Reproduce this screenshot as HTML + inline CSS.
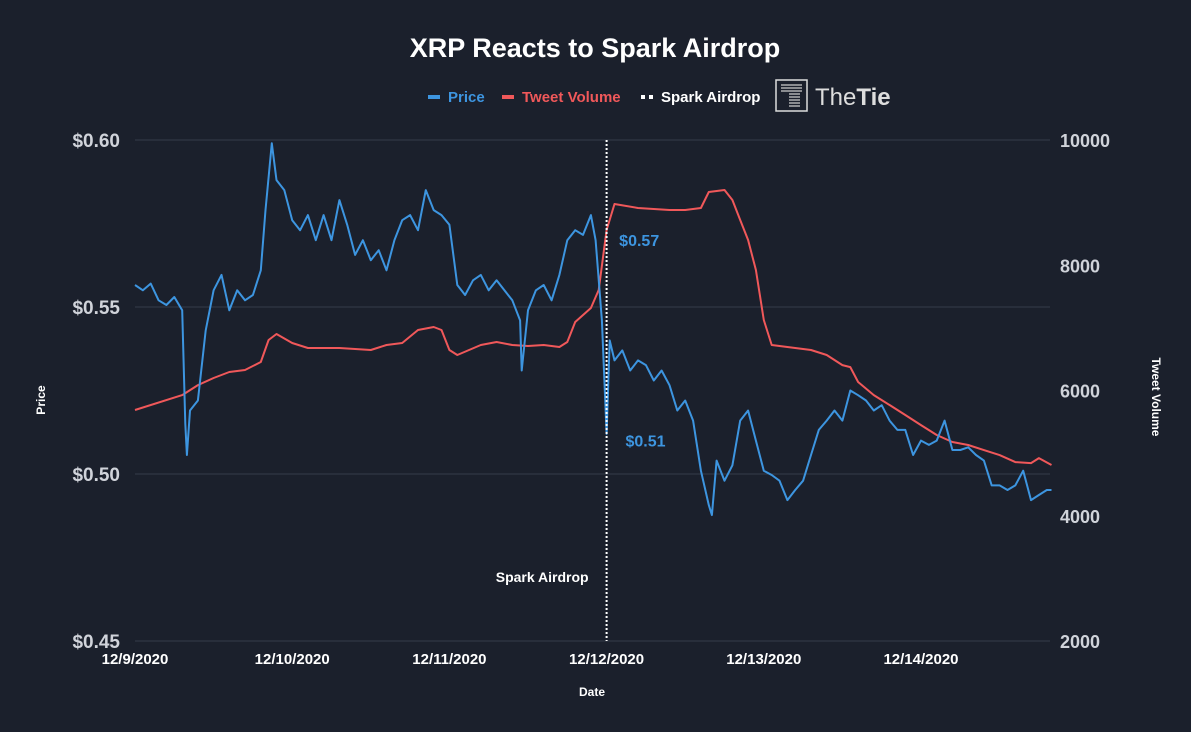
<!DOCTYPE html>
<html><head><meta charset="utf-8"><style>
body{margin:0;background:#1b202c;}
svg{display:block;font-family:"Liberation Sans",sans-serif;}
</style></head><body>
<svg id="c" width="1191" height="732">
<rect width="1191" height="732" fill="#1b202c"/>
<text x="595" y="57" text-anchor="middle" fill="#fff" font-size="27" font-weight="bold">XRP Reacts to Spark Airdrop</text>
<g>
<g><rect x="428" y="95" width="12" height="4" fill="#3d95e0"/><text x="448" y="102" fill="#3d95e0" font-size="15" font-weight="bold">Price</text></g>
<g><rect x="502" y="95" width="12" height="4" fill="#f0585a"/><text x="522" y="102" fill="#f0585a" font-size="15" font-weight="bold">Tweet Volume</text></g>
<g><rect x="641" y="95" width="4" height="4" fill="#fff"/><rect x="649" y="95" width="4" height="4" fill="#fff"/><text x="661" y="102" fill="#fff" font-size="15" font-weight="bold">Spark Airdrop</text></g>
<g><rect x="776" y="80" width="31" height="31" fill="none" stroke="#ddd" stroke-width="1.5"/>
<path d="M781 85h21M781 88h21M781 91h21M789 94h11M789 97h11M789 100h11M789 103h11M789 106h11" stroke="#ccc" stroke-width="1.2"/>
<text x="815" y="105" fill="#ddd" font-size="24">The<tspan font-weight="bold">Tie</tspan></text></g>
</g>
<g id="grid"></g>
<g id="marks"></g>
<text x="45" y="400" transform="rotate(-90 45 400)" text-anchor="middle" fill="#fff" font-size="12" font-weight="bold">Price</text>
<text x="1152" y="397" transform="rotate(90 1152 397)" text-anchor="middle" fill="#fff" font-size="12" font-weight="bold">Tweet Volume</text>
<text x="592" y="696" text-anchor="middle" fill="#fff" font-size="12" font-weight="bold">Date</text>
</svg>
<script>
const priceTicks=[0.45,0.50,0.55,0.60];
const volTicks=[2000,4000,6000,8000,10000];
const dateLabels=["12/9/2020","12/10/2020","12/11/2020","12/12/2020","12/13/2020","12/14/2020"];
const priceDays=[0,0.05,0.1,0.15,0.2,0.25,0.3,0.32,0.33,0.35,0.4,0.45,0.5,0.55,0.6,0.65,0.7,0.75,0.8,0.83,0.87,0.9,0.95,1.0,1.05,1.1,1.15,1.2,1.25,1.3,1.35,1.4,1.45,1.5,1.55,1.6,1.65,1.7,1.75,1.8,1.85,1.9,1.95,2.0,2.05,2.1,2.15,2.2,2.25,2.3,2.35,2.4,2.45,2.46,2.5,2.55,2.6,2.65,2.7,2.75,2.8,2.85,2.9,2.93,2.97,3.0,3.02,3.05,3.1,3.15,3.2,3.25,3.3,3.35,3.4,3.45,3.5,3.55,3.6,3.65,3.67,3.7,3.75,3.8,3.85,3.9,3.95,4.0,4.05,4.1,4.15,4.2,4.25,4.3,4.35,4.4,4.45,4.5,4.55,4.6,4.65,4.7,4.75,4.8,4.85,4.9,4.95,5.0,5.05,5.1,5.15,5.2,5.25,5.3,5.35,5.4,5.45,5.5,5.55,5.6,5.65,5.7,5.75,5.8,5.83];
const priceVals=[0.5566,0.555,0.557,0.552,0.5506,0.553,0.549,0.515,0.5057,0.519,0.522,0.543,0.555,0.5596,0.549,0.555,0.552,0.5536,0.561,0.579,0.599,0.588,0.585,0.576,0.573,0.5775,0.570,0.5775,0.570,0.582,0.5746,0.5656,0.570,0.564,0.567,0.561,0.570,0.576,0.5775,0.573,0.585,0.579,0.5775,0.5746,0.5566,0.5536,0.558,0.5596,0.555,0.558,0.555,0.552,0.546,0.531,0.549,0.555,0.5566,0.552,0.5596,0.570,0.573,0.5716,0.5775,0.570,0.546,0.512,0.540,0.534,0.537,0.531,0.534,0.5326,0.528,0.531,0.5266,0.519,0.522,0.516,0.501,0.4907,0.4877,0.504,0.498,0.5026,0.516,0.519,0.510,0.501,0.4997,0.498,0.4922,0.4952,0.498,0.5057,0.5132,0.516,0.519,0.516,0.525,0.5236,0.522,0.519,0.5206,0.516,0.5132,0.5132,0.5057,0.510,0.5087,0.510,0.516,0.5072,0.5072,0.508,0.5057,0.504,0.4966,0.4966,0.4952,0.4966,0.501,0.4922,0.4937,0.4952,0.4952];
const volDays=[0,0.3,0.4,0.5,0.6,0.7,0.8,0.85,0.9,1.0,1.1,1.3,1.5,1.6,1.7,1.8,1.9,1.95,2.0,2.05,2.2,2.3,2.4,2.5,2.6,2.7,2.75,2.8,2.9,2.95,3.0,3.05,3.2,3.4,3.5,3.6,3.65,3.75,3.8,3.85,3.9,3.95,4.0,4.05,4.2,4.3,4.4,4.5,4.55,4.6,4.7,4.8,4.9,5.0,5.1,5.2,5.3,5.4,5.5,5.6,5.7,5.75,5.83];
const volVals=[5689,5927,6086,6200,6295,6327,6455,6806,6902,6758,6678,6678,6647,6726,6758,6966,7014,6966,6647,6567,6726,6774,6726,6710,6726,6694,6774,7094,7317,7605,8563,8978,8914,8882,8882,8914,9170,9202,9042,8722,8403,7924,7125,6726,6678,6647,6567,6406,6374,6135,5927,5768,5608,5448,5289,5177,5129,5049,4969,4857,4841,4921,4810];
const airdropDay=3.0;
const annotations=[{d:3.08,p:0.57,t:"$0.57"},{d:3.12,p:0.51,t:"$0.51"}];

const NS="http://www.w3.org/2000/svg";
const X0=135,DAYPX=157.2,TOP=140,BOT=641;
const xs=d=>X0+d*DAYPX;
const yp=p=>BOT-(p-0.45)/0.15*(BOT-TOP);
const yv=v=>BOT-(v-2000)/8000*(BOT-TOP);
function mk(tag,attrs,parent,txt){const e=document.createElementNS(NS,tag);for(const k in attrs)e.setAttribute(k,attrs[k]);if(txt!=null)e.textContent=txt;parent.appendChild(e);return e;}
const grid=document.getElementById('grid'),marks=document.getElementById('marks');
priceTicks.forEach(p=>{
 const l=mk('line',{x1:135,x2:1050,y1:yp(p),y2:yp(p),stroke:'#353b4a','stroke-width':1},grid);
 
 
 const t=mk('text',{x:120,y:yp(p)+7,'text-anchor':'end',fill:'#d0d3da','font-size':19,'font-weight':'bold'},grid,'$'+p.toFixed(2));
 
 
});
volTicks.forEach(v=>{
 const t=mk('text',{x:1060,y:yv(v)+7,fill:'#d0d3da','font-size':18,'font-weight':'bold'},grid,String(v));
 
 
});
dateLabels.forEach((s,i)=>{
 const t=mk('text',{x:xs(i),y:664,'text-anchor':'middle',fill:'#fff','font-size':15,'font-weight':'bold'},grid,s);
 
 
});
const vl=mk('path',{d:volDays.map((d,i)=>(i?'L':'M')+xs(d).toFixed(1)+' '+yv(volVals[i]).toFixed(1)).join(''),fill:'none',stroke:'#f0585a','stroke-width':2,'stroke-linejoin':'round'},marks);


const pl=mk('path',{d:priceDays.map((d,i)=>(i?'L':'M')+xs(d).toFixed(1)+' '+yp(priceVals[i]).toFixed(1)).join(''),fill:'none',stroke:'#3d95e0','stroke-width':2,'stroke-linejoin':'round'},marks);


const al=mk('line',{x1:xs(airdropDay),x2:xs(airdropDay),y1:TOP,y2:BOT,stroke:'#fff','stroke-width':2,'stroke-dasharray':'2 2'},marks);


const at=mk('text',{x:xs(airdropDay)-18,y:582,'text-anchor':'end',fill:'#fff','font-size':14,'font-weight':'bold'},marks,'Spark Airdrop');


annotations.forEach(a=>{
 const t=mk('text',{x:xs(a.d),y:yp(a.p)+6,fill:'#3d95e0','font-size':16,'font-weight':'bold'},marks,a.t);
 
 
});
</script>
</body></html>
